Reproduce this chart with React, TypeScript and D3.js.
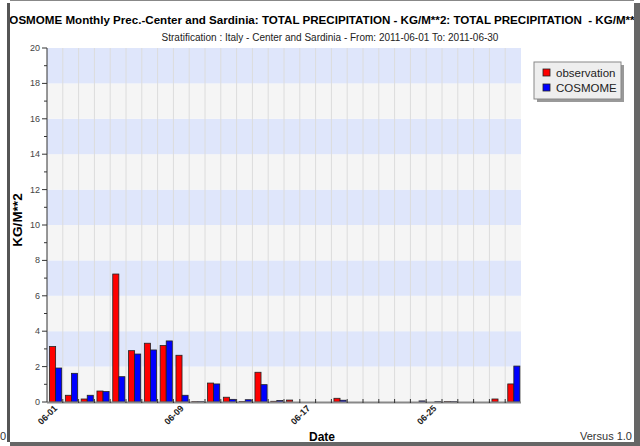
import React from "react";
import * as d3 from "d3";

// daily totals, June 2011 (KG/M**2)
const days = d3.range(1, 31);
const observation = [
  3.13, 0.38, 0.17, 0.62, 7.23, 2.9, 3.32, 3.19, 2.64, 0.02,
  1.07, 0.27, 0.03, 1.68, 0.04, 0.11, 0, 0, 0.21, 0,
  0, 0, 0, 0, 0, 0.03, 0, 0, 0.17, 1.02,
];
const cosmome = [
  1.92, 1.62, 0.38, 0.59, 1.43, 2.71, 2.94, 3.45, 0.38, 0.02,
  1.02, 0.15, 0.13, 0.98, 0.08, 0, 0, 0, 0.1, 0,
  0, 0, 0, 0.06, 0.02, 0.02, 0, 0, 0, 2.03,
];
const seriesNames = ["observation", "COSMOME"];
const seriesColors = ["#ff0000", "#0000ff"];
const xTickDays = [1, 9, 17, 25];
const yMajor = d3.range(0, 21, 2);
const yMinor = d3.range(1, 20, 2);

const font = "'Liberation Sans', Arial, sans-serif";

const W = 640;
const H = 446;
const plot = { left: 47, right: 521, top: 48, bottom: 402 };

const label = (d: number) => `06-${d < 10 ? "0" + d : d}`;

export default function App() {
  const x = d3
    .scaleBand<number>()
    .domain(days)
    .range([plot.left, plot.right])
    .padding(0);
  const sub = d3
    .scaleBand<string>()
    .domain(seriesNames)
    .range([0, x.bandwidth()])
    .paddingInner(0)
    .paddingOuter(0.3)
    .align(0.7);
  const y = d3.scaleLinear().domain([0, 20]).range([plot.bottom, plot.top]);
  const values = [observation, cosmome];

  return (
    <svg
      width={W}
      height={H}
      style={{ position: "absolute", left: 0, top: 0, background: "#fff" }}
      fontFamily={font}
    >
      <defs>
        <clipPath id="frame">
          <rect x={10} y={0} width={624} height={442} />
        </clipPath>
      </defs>
      <rect width={W} height={H} fill="#fff" />
      <g clipPath="url(#frame)">
        {/* the title is wider than the frame, it gets cut on both sides */}
        <text x={1} y={24} fontSize={11.6} fontWeight="bold" fill="#000" style={{ whiteSpace: "pre" }}>
          {"COSMOME Monthly Prec.-Center and Sardinia: TOTAL PRECIPITATION - KG/M**2: TOTAL PRECIPITATION  - KG/M**2"}
        </text>
        <text x={330} y={41} fontSize={10} textAnchor="middle" fill="#222">
          Stratification : Italy - Center and Sardinia - From: 2011-06-01 To: 2011-06-30
        </text>

        {/* bands */}
        {yMajor.slice(0, -1).map((v, i) => (
          <rect
            key={"b" + v}
            x={plot.left}
            y={y(v + 2)}
            width={plot.right - plot.left}
            height={y(v) - y(v + 2)}
            fill={i % 2 === 0 ? "#f5f5f5" : "#dfe6fb"}
          />
        ))}
        {/* vertical grid */}
        {days.slice(1).map((d) => (
          <line
            key={"g" + d}
            x1={x(d)}
            x2={x(d)}
            y1={plot.top}
            y2={plot.bottom}
            stroke="#dcdcdc"
            strokeWidth={1}
          />
        ))}

        {/* bars */}
        {values.map((vals, si) =>
          days.map((d, i) => {
            const v = vals[i];
            if (v <= 0) return null;
            const bx = (x(d) ?? 0) + (sub(seriesNames[si]) ?? 0);
            const by = y(v);
            return (
              <rect
                key={si + "-" + d}
                x={bx}
                y={by}
                width={sub.bandwidth()}
                height={Math.max(plot.bottom - by, 1)}
                fill={seriesColors[si]}
                stroke="#222"
                strokeWidth={0.8}
              />
            );
          })
        )}

        {/* x axis */}
        <line
          x1={plot.left}
          x2={plot.right}
          y1={plot.bottom + 0.5}
          y2={plot.bottom + 0.5}
          stroke="#888"
          strokeWidth={2}
        />
        {days.slice(1).map((d) => (
          <line
            key={"xt" + d}
            x1={x(d)}
            x2={x(d)}
            y1={plot.bottom - 3}
            y2={plot.bottom + 1}
            stroke="#333"
          />
        ))}
        {xTickDays.map((d) => {
          const cx = (x(d) ?? 0) + x.bandwidth() / 2;
          return (
            <text
              key={"xl" + d}
              transform={`translate(${cx + 3},${plot.bottom + 7}) rotate(-45)`}
              textAnchor="end"
              fontSize={9}
              fontWeight="bold"
              fill="#222"
            >
              {label(d)}
            </text>
          );
        })}
        <text x={322} y={441} fontSize={12} fontWeight="bold" textAnchor="middle" fill="#000">
          Date
        </text>

        {/* y axis */}
        <line x1={plot.left} x2={plot.left} y1={plot.top} y2={plot.bottom} stroke="#333" />
        {yMajor.map((v) => (
          <g key={"ym" + v}>
            <line x1={plot.left - 5} x2={plot.left} y1={y(v)} y2={y(v)} stroke="#333" />
            <text x={plot.left - 7} y={y(v) + 3} fontSize={9} textAnchor="end" fill="#444">
              {v}
            </text>
          </g>
        ))}
        {yMinor.map((v) => (
          <line key={"yn" + v} x1={plot.left - 3} x2={plot.left} y1={y(v)} y2={y(v)} stroke="#333" />
        ))}
        <text
          transform={`translate(22,220) rotate(-90)`}
          fontSize={13.5}
          fontWeight="bold"
          textAnchor="middle"
          fill="#000"
        >
          KG/M**2
        </text>

        {/* legend */}
        <rect x={537} y={65} width={87} height={37} fill="#999" />
        <rect x={534} y={62} width={87} height={37} fill="#eeeeee" stroke="#888" />
        {seriesNames.map((n, i) => (
          <g key={"l" + n} transform={`translate(543,${69 + i * 15})`}>
            <rect width={7} height={7} fill={seriesColors[i]} stroke="#222" strokeWidth={0.8} />
            <text x={13} y={8} fontSize={11.5} fill="#222">
              {n}
            </text>
          </g>
        ))}

        <text x={632} y={440} fontSize={11} textAnchor="end" fill="#333">
          Versus 1.0
        </text>
      </g>

      {/* page frame */}
      <line x1={10} x2={634} y1={0.5} y2={0.5} stroke="#888" />
      <rect x={7} y={3} width={3} height={439} fill="#555" />
      <rect x={634} y={3} width={6} height={443} fill="#666" />
      <rect x={10} y={442} width={630} height={4} fill="#666" />
      <text x={0} y={440} fontSize={11} fill="#333">
        0
      </text>
    </svg>
  );
}
